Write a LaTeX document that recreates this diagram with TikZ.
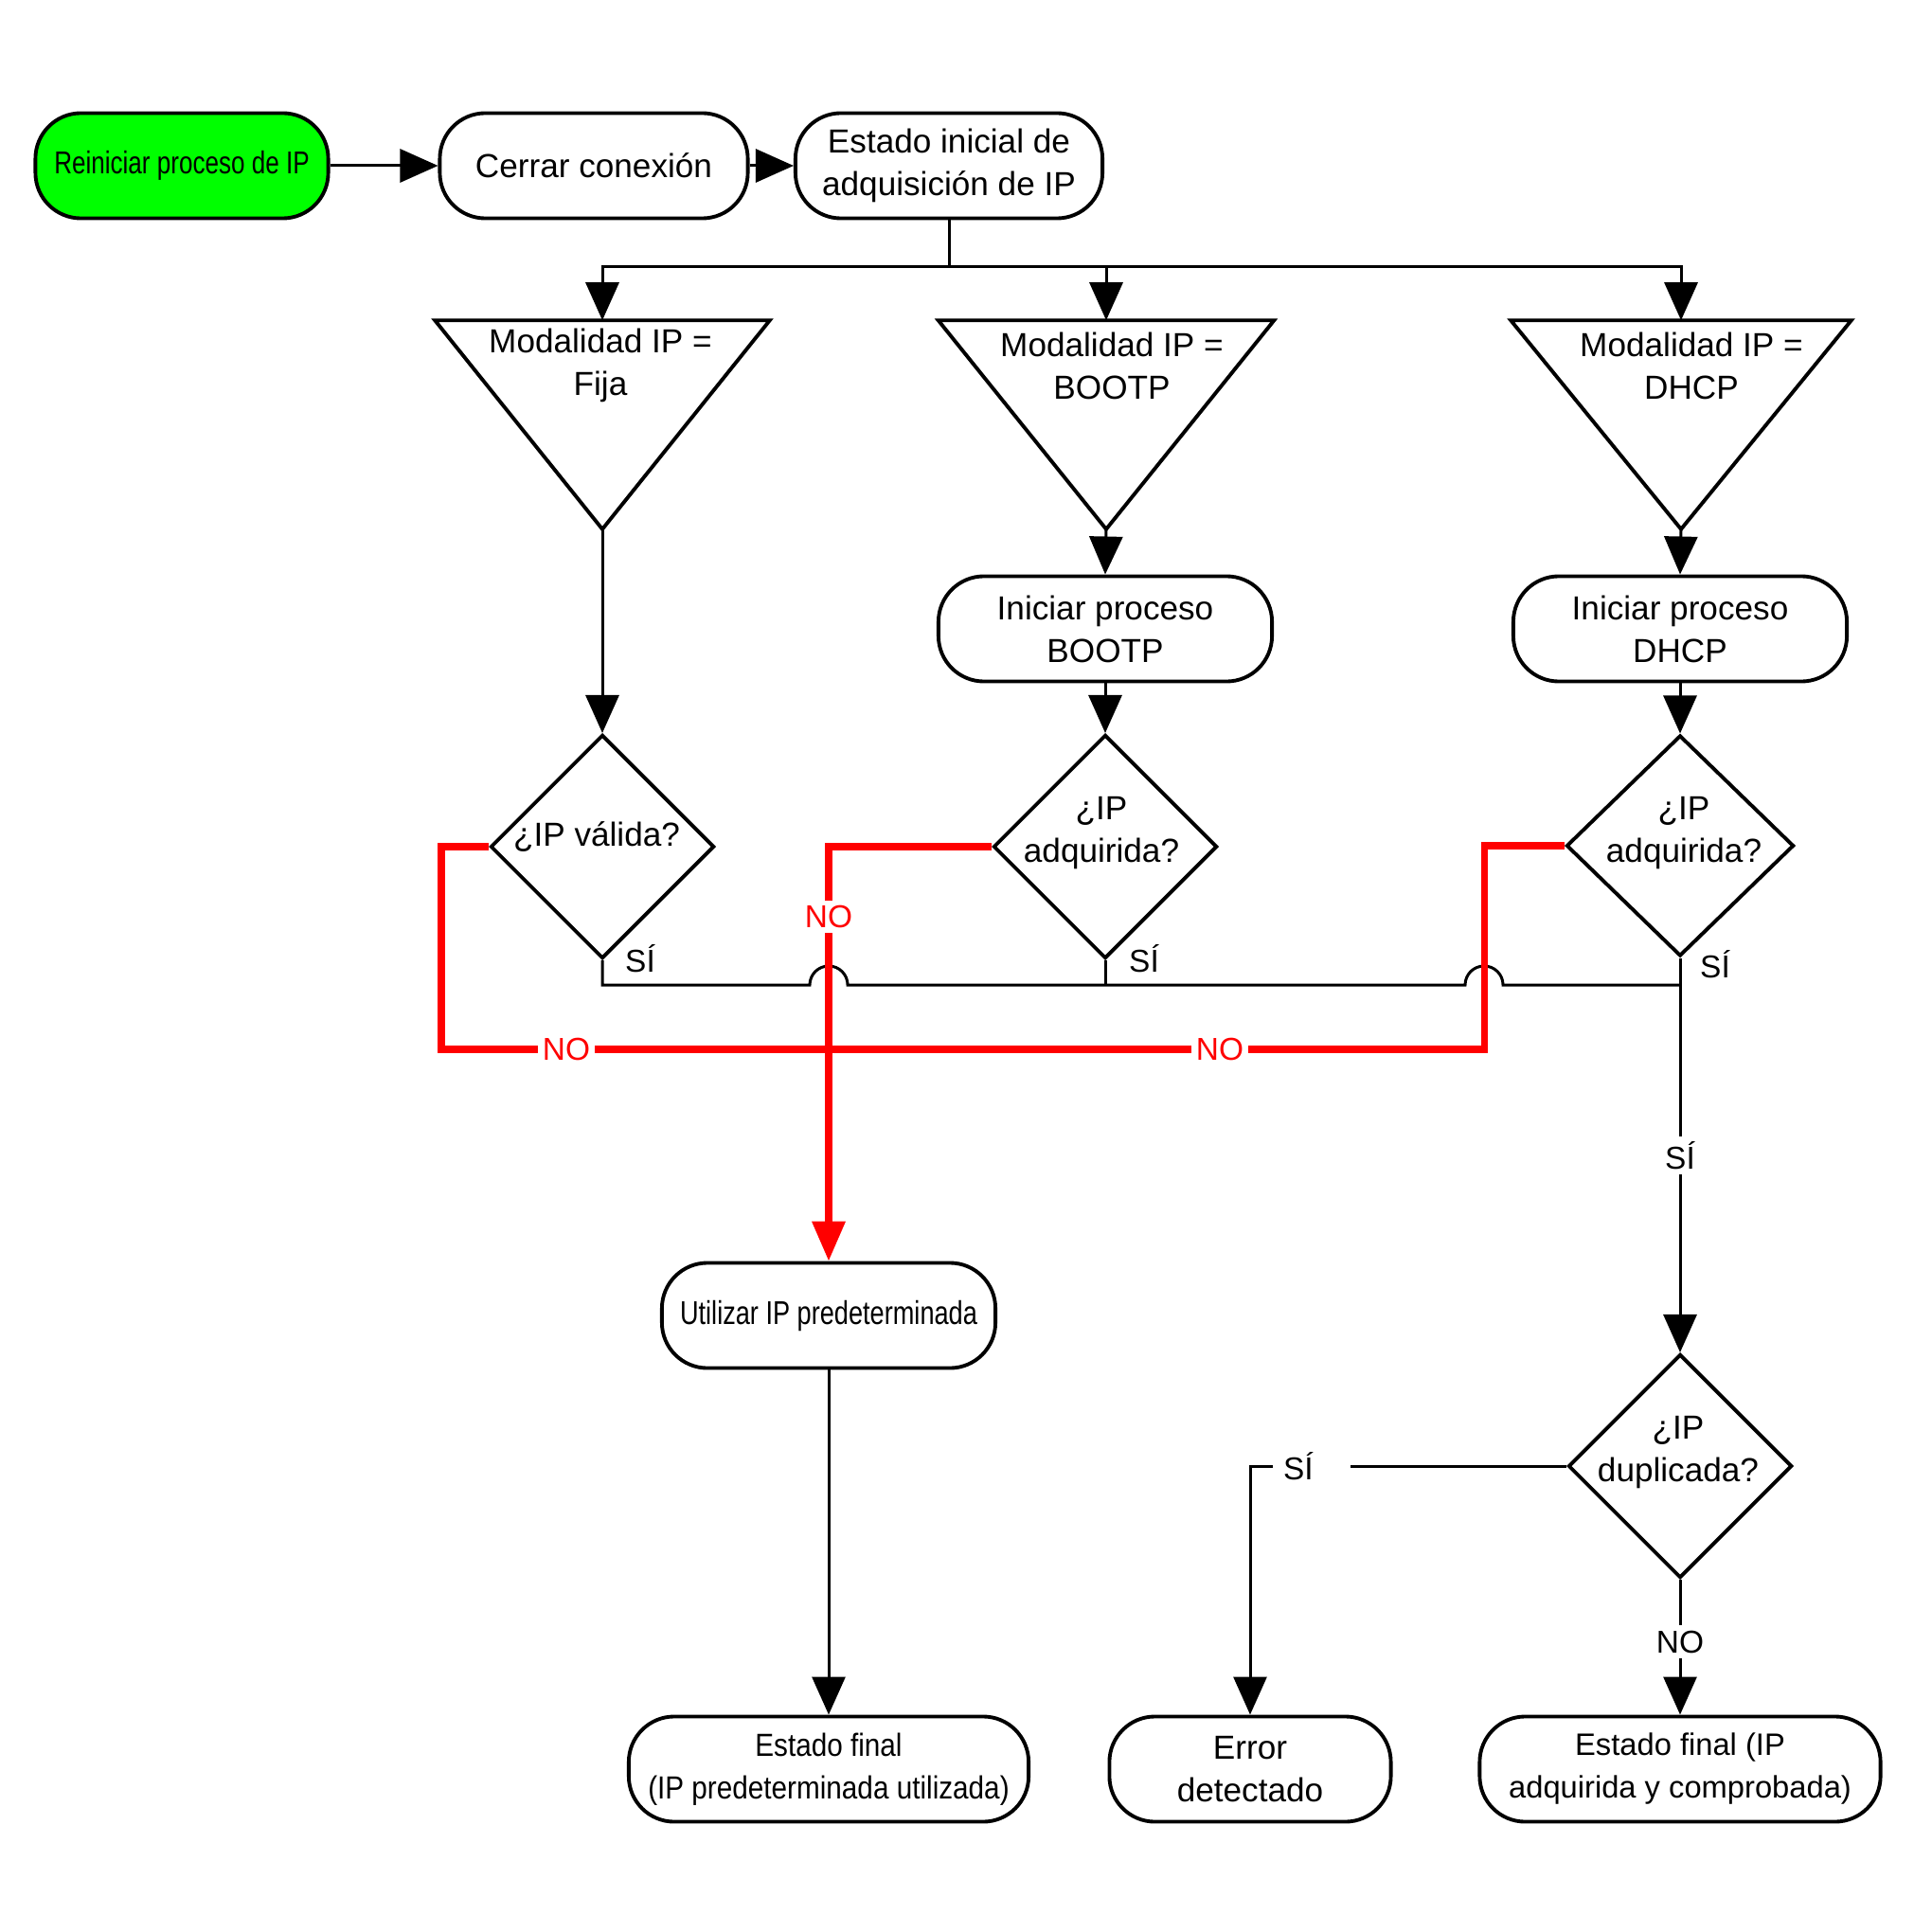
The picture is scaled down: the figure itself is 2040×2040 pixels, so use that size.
\documentclass[tikz,border=0pt]{standalone}
\usepackage{fontspec}
\setmainfont{Liberation Sans}
\newfontfamily\nA[FakeStretch=0.78]{Liberation Sans}
\newfontfamily\nB[FakeStretch=0.88]{Liberation Sans}
\usetikzlibrary{arrows.meta,shapes.geometric,calc}
\definecolor{flgreen}{RGB}{0,255,0}
\definecolor{flred}{RGB}{255,0,0}
\begin{document}
\begin{tikzpicture}[x=0.01cm,y=-0.01cm,
  txt/.style={font={\fontsize{10}{12.8}\selectfont}, align=center, inner sep=0pt},
  box/.style={txt, draw, line width=1.1pt, rounded corners=0.48cm, minimum height=1.11cm},
  tribox/.style={inner sep=0pt, minimum width=#1, minimum height=2.19cm},
  triline/.style={line width=1.1pt, line join=miter},
  dia/.style={draw, diamond, line width=1.1pt, inner sep=0pt, minimum width=2.36cm, minimum height=2.36cm},
  arr/.style={line width=0.85pt, -{Triangle[length=0.4cm,width=0.35cm]}},
  conn/.style={line width=0.85pt},
  rd/.style={line width=2pt, draw=flred},
  rarr/.style={rd, -{Triangle[length=0.42cm,width=0.34cm]}},
  lbl/.style={font={\fontsize{9.5}{11}\selectfont}, inner sep=1.5pt},
  rlbl/.style={lbl, text=flred, fill=white},
  wlbl/.style={lbl, fill=white},
]
\fill[white] (0,0) rectangle (2040,2040);
\useasboundingbox (0,0) rectangle (2040,2040);

% top row
\node[box, fill=flgreen, minimum width=3.09cm, font={\nA\fontsize{9.5}{11}\selectfont}] (rein) at (192,175) {Reiniciar proceso de IP};
\node[box, minimum width=3.25cm] (cerr) at (627,175) {Cerrar conexión};
\node[box, minimum width=3.24cm] (est) at (1002,175) {Estado inicial de\\adquisición de IP};

% triangles
\node[tribox=3.52cm] (tf) at (636,448.5) {};
\draw[triline] (tf.north west) -- (tf.north east) -- (tf.south) -- cycle;
\node[txt] (tft) at (634,386) {Modalidad IP =\\Fija};
\node[tribox=3.53cm] (tb) at (1168,448.5) {};
\draw[triline] (tb.north west) -- (tb.north east) -- (tb.south) -- cycle;
\node[txt] (tbt) at (1174,386) {Modalidad IP =\\BOOTP};
\node[tribox=3.58cm] (td) at (1775,448.5) {};
\draw[triline] (td.north west) -- (td.north east) -- (td.south) -- cycle;
\node[txt] (tdt) at (1786,386) {Modalidad IP =\\DHCP};

% iniciar boxes
\node[box, minimum width=3.52cm] (ib) at (1167,664) {Iniciar proceso\\BOOTP};
\node[box, minimum width=3.52cm] (id) at (1774,664) {Iniciar proceso\\DHCP};

% diamonds
\node[dia] (dv) at (636,894) {};
\node[txt] (dvt) at (630,884) {¿IP válida?};
\node[dia] (dbp) at (1167,894) {};
\node[txt] (dbpt) at (1163,880) {¿IP\\adquirida?};
\node[dia, minimum width=2.4cm, minimum height=2.33cm] (ddh) at (1774,893) {};
\node[txt] (ddht) at (1778,880) {¿IP\\adquirida?};
\node[dia] (ddu) at (1774,1548) {};
\node[txt] (ddut) at (1772,1534) {¿IP\\duplicada?};

% bottom boxes
\node[box, minimum width=3.52cm, font={\nA\fontsize{9.9}{12.8}\selectfont}] (util) at (875,1389) {Utilizar IP predeterminada};
\node[box, minimum width=4.22cm, font={\nB\fontsize{9.6}{12.8}\selectfont}] (ef1) at (875,1868) {Estado final\\(IP predeterminada utilizada)};
\node[box, minimum width=2.97cm] (err) at (1320,1868) {Error\\detectado};
\node[box, minimum width=4.23cm, font={\fontsize{9.3}{12.8}\selectfont}] (ef2) at (1774,1868) {Estado final (IP\\adquirida y comprobada)};

% connectors
\draw[arr] (rein.east) -- (cerr.west);
\draw[arr] (cerr.east) -- (est.west);
\coordinate (br) at (1002,282);
\draw[conn] (est.south) -- (br);
\draw[arr] (br) -| (tf.north);
\draw[arr] (br) -| (tb.north);
\draw[arr] (br) -| (td.north);
\draw[arr] (tf.south) -- (dv.north);
\draw[arr] (tb.south) -- (ib.north);
\draw[arr] (ib.south) -- (dbp.north);
\draw[arr] (td.south) -- (id.north);
\draw[arr] (id.south) -- (ddh.north);

\coordinate (jr) at (1774,1040);
\draw[conn] (dv.south) |- (855,1040) arc[start angle=180,end angle=0,radius=0.2cm]
  -- (1547,1040) arc[start angle=180,end angle=0,radius=0.2cm] -- (jr);
\draw[conn] (dbp.south) -- (dbp.south |- jr);
\draw[arr] (ddh.south) -- (ddu.north) node[wlbl, pos=0.5] (s4) {SÍ};
\draw[arr] (ddu.south) -- (ef2.north) node[wlbl, pos=0.46] (n4) {NO};
\draw[arr] (ddu.west) -| (err.north);
\node[lbl, fill=white, text width=0.82cm, align=left, inner xsep=0pt] (s5) at (1385,1548) {\hspace{0.11cm}SÍ};
\draw[arr] (util.south) -- (ef1.north);

% red paths
\coordinate (rl) at (466,1108);
\coordinate (rr) at (1567,893);
\draw[rd] (dv.west) -| (rl) -| (rr) -- (ddh.west);
\draw[rarr] (dbp.west) -| (util.north);
\node[rlbl] (no1) at (598,1108) {NO};
\node[rlbl] (no2) at (1288,1108) {NO};
\node[rlbl] (no3) at (875,968) {NO};

% yes labels
\node[lbl] (s1) at (676,1012) {SÍ};
\node[lbl] (s2) at (1208,1012) {SÍ};
\node[lbl] (s3) at (1811,1018) {SÍ};
\end{tikzpicture}
\end{document}
